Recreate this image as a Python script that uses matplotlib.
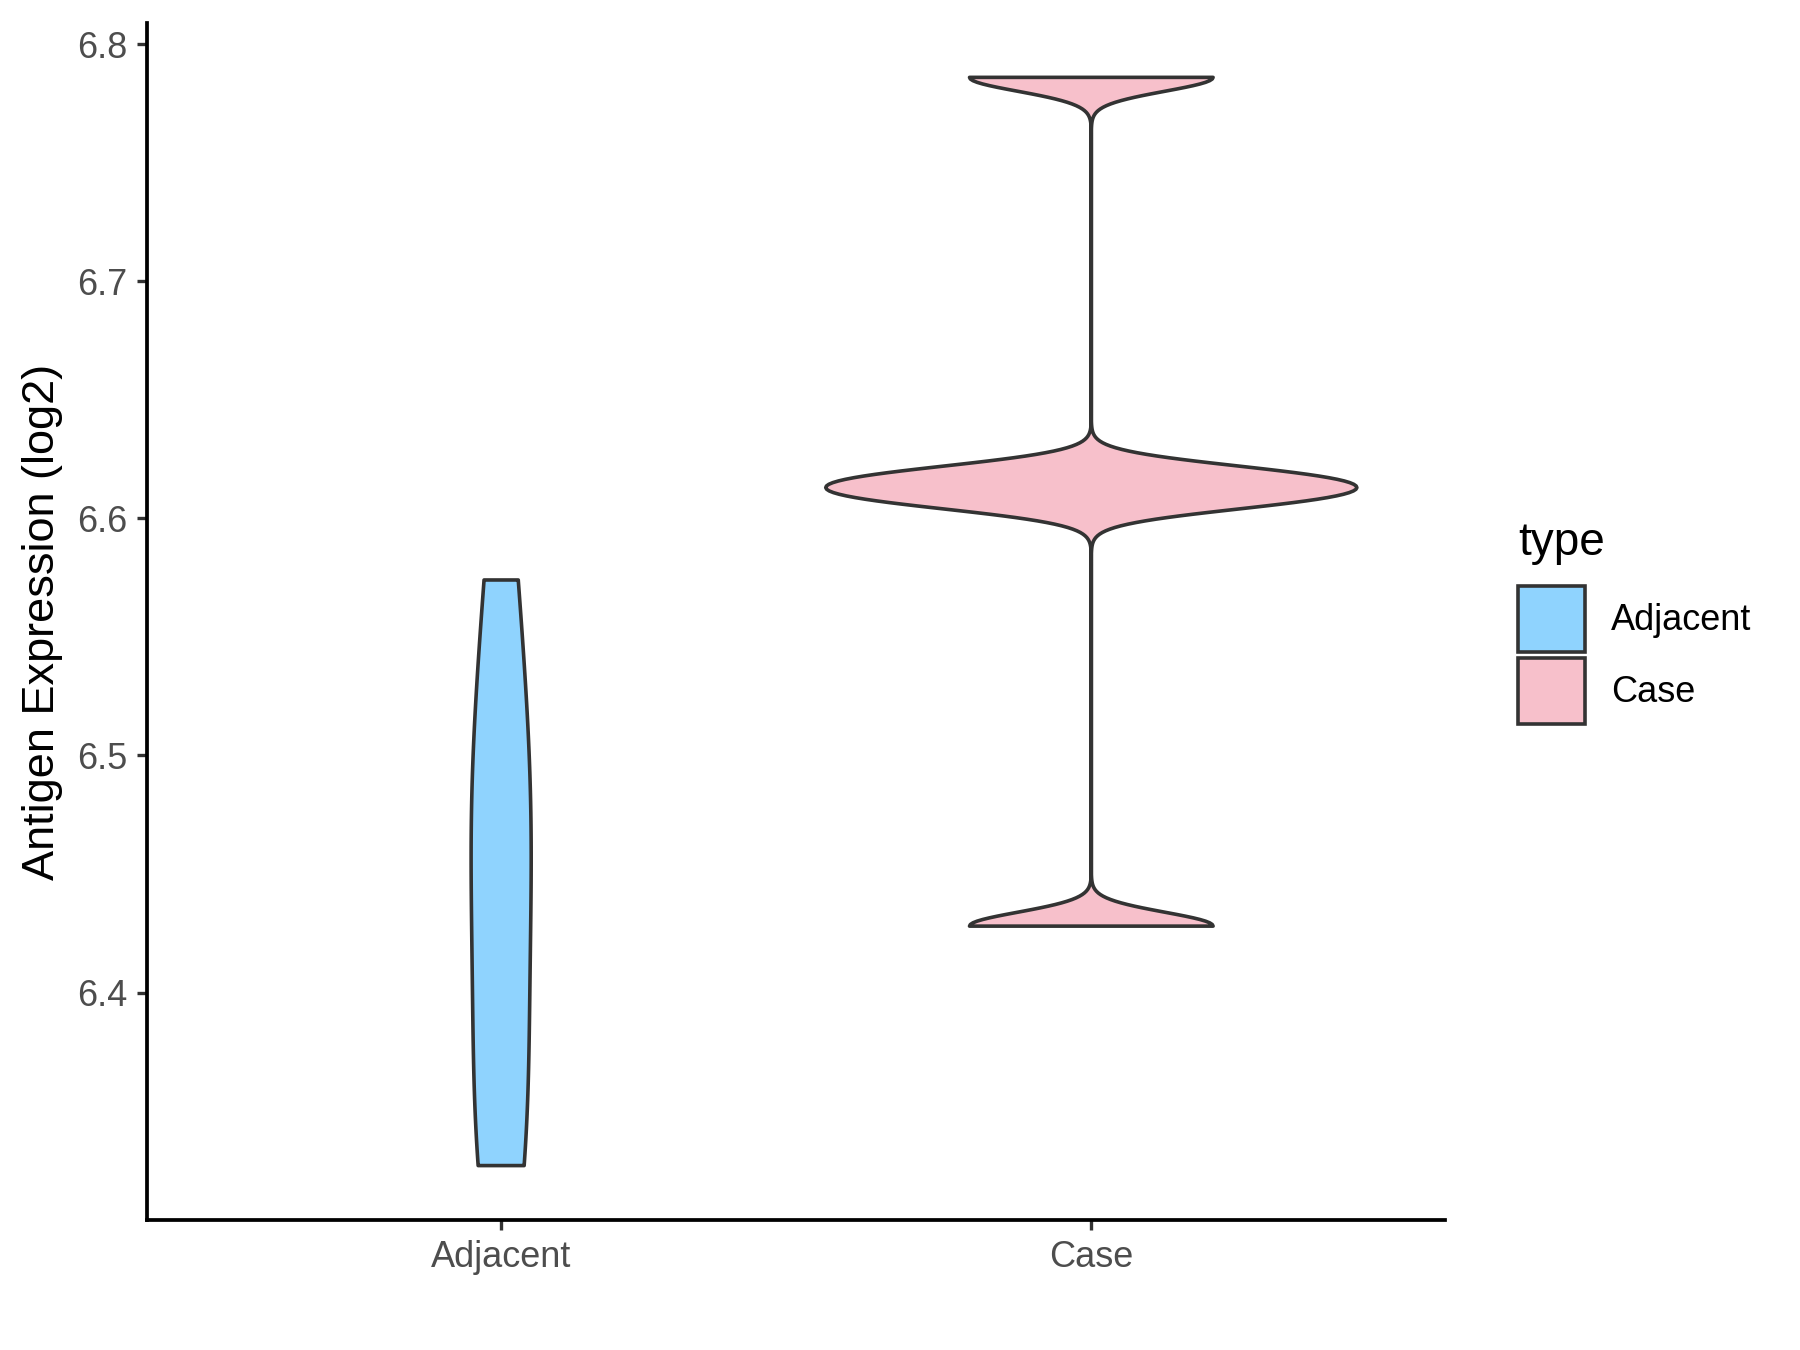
import numpy as np
import matplotlib.pyplot as plt
from matplotlib.patches import Patch

# sample values per group (log2 antigen expression)
groups = ['Adjacent', 'Case']
adjacent_vals = [6.327, 6.35, 6.42, 6.47, 6.50, 6.574]
case_vals = [6.428, 6.607, 6.613, 6.619, 6.786]
fills = ['#8FD3FE', '#F7C0CB']
yticks = [6.4, 6.5, 6.6, 6.7, 6.8]

plt.rcParams['font.family'] = ['Liberation Sans', 'DejaVu Sans']


def bw_nrd0(x):
    # same rule of thumb as R's default bandwidth
    x = np.asarray(x)
    sd = np.std(x, ddof=1)
    iqr = np.subtract(*np.percentile(x, [75, 25])) / 1.34
    return 0.9 * min(sd, iqr) * len(x) ** (-0.2)


def kde(x, grid):
    x = np.asarray(x)
    h = bw_nrd0(x)
    z = (grid[:, None] - x[None, :]) / h
    return np.exp(-0.5 * z ** 2).sum(axis=1) / (len(x) * h * np.sqrt(2 * np.pi))


data = [adjacent_vals, case_vals]
curves = []
for vals in data:
    g = np.linspace(min(vals), max(vals), 512)
    curves.append((g, kde(vals, g)))
dmax = max(d.max() for _, d in curves)

fig = plt.figure(figsize=(18, 13.5), dpi=100)
ax = fig.add_axes([0.0817, 0.0963, 0.7213, 0.8867])

for i, ((g, d), col) in enumerate(zip(curves, fills)):
    w = 0.45 * d / dmax
    xs = np.concatenate([i + 1 - w, (i + 1 + w)[::-1]])
    ys = np.concatenate([g, g[::-1]])
    ax.fill(xs, ys, facecolor=col, edgecolor='#333333', linewidth=2.6,
            joinstyle='round')

ax.set_xlim(0.4, 2.6)
lo = min(min(v) for v in data)
hi = max(max(v) for v in data)
pad = (hi - lo) * 0.05
ax.set_ylim(lo - pad, hi + pad)
ax.set_xticks([1, 2])
ax.set_xticklabels(groups)
ax.set_yticks(yticks)
ax.set_yticklabels([f'{t:.1f}' for t in yticks])
ax.tick_params(axis='both', labelsize=26, labelcolor='#4D4D4D', color='#333333',
               width=2.4, length=7.2)
ax.tick_params(axis='y', pad=7)
ax.tick_params(axis='x', pad=7)
ax.set_ylabel('Antigen Expression (log2)', fontsize=32.5, color='black', labelpad=10)

for s in ['top', 'right']:
    ax.spines[s].set_visible(False)
for s in ['left', 'bottom']:
    ax.spines[s].set_color('black')
    ax.spines[s].set_linewidth(2.7)

handles = [Patch(facecolor=c, edgecolor='#333333', linewidth=2.6, label=l)
           for c, l in zip(fills, groups)]
leg = ax.legend(handles=handles, title='type', loc='center left',
                bbox_to_anchor=(0.8433, 0.539), bbox_transform=fig.transFigure,
                frameon=False, fontsize=26, title_fontsize=33,
                handlelength=1.85, handleheight=2.45, labelspacing=0.15,
                handletextpad=0.72, borderaxespad=0, borderpad=0)
leg._legend_box.align = 'left'
leg._legend_box.sep = 15.5  # gap between title and keys

fig.savefig('out.png', dpi=100)
